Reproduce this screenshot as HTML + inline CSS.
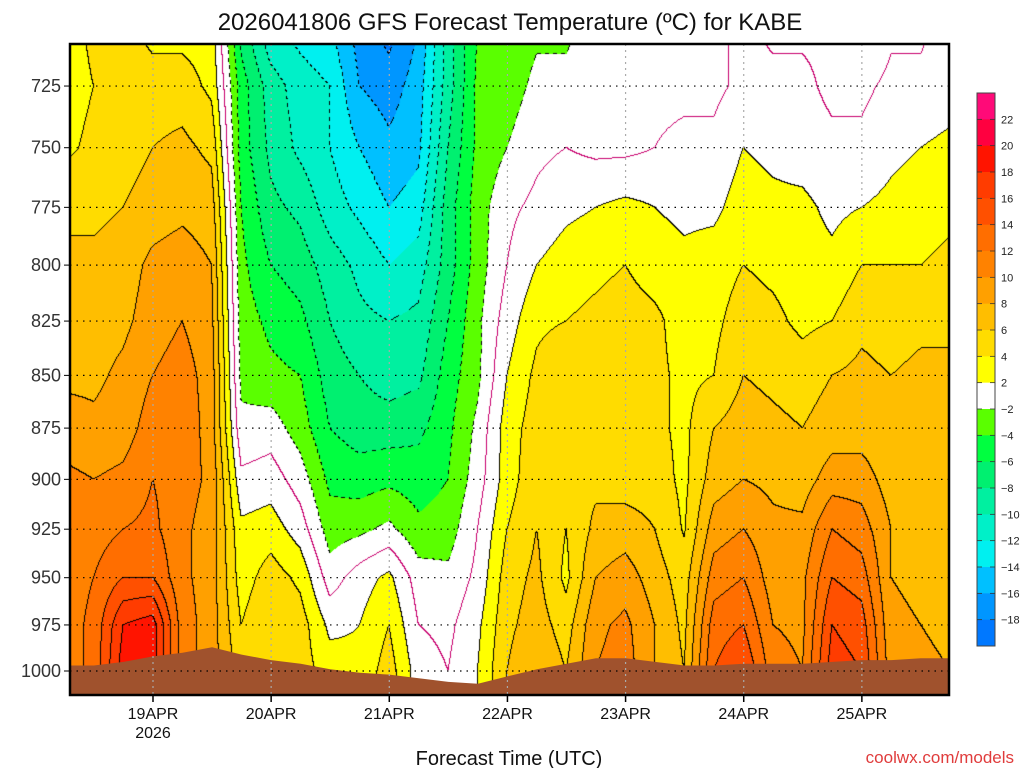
<!DOCTYPE html>
<html><head><meta charset="utf-8">
<style>
body{margin:0;background:#fff;width:1024px;height:768px;overflow:hidden;font-family:"Liberation Sans","DejaVu Sans",sans-serif;}
#wrap{position:relative;width:1024px;height:768px;}
canvas{position:absolute;left:70px;top:44px;}
svg{position:absolute;left:0;top:0;}
</style></head>
<body>
<div id="wrap">
<canvas id="cv" width="879" height="651"></canvas>
<svg id="sv" width="1024" height="768"></svg>
</div>
<script>
// ---- data ----
const hours=[-18,-12,-6,0,6,12,18,24,30,36,42,48,54,60,66,72,78,84,90,96,102,108,114,120,126,132,138,144,150,156,162,168];
const levels=[700,725,750,775,800,825,850,875,900,925,950,975,1000];
const t700=[3,4.5,5,3,3,3,-7,-12,-13,-14,-17,-19,-16,-9,-4,-3.5,-2.5,-2.5,-1,-1,-2.5,-1,-0.5,0.5,-0.5,-0.5,-0.5,-2.5,-0.5,-0.5,1,1];
const t725=[3,4,5,5,5,3.5,-5,-9,-11,-12,-16,-17,-15,-9,-3.5,-3,-1.5,-1.5,-1,-0.5,-0.5,-0.5,-0.5,0.5,0.5,0.5,-0.5,-0.5,0.5,0.5,1,1];
const t750=[3.5,4.5,5,6,6.5,5.5,-5,-8.5,-10.5,-12,-14,-15.5,-14.5,-8,-3.5,-2,-0.5,0,-0.5,-0.5,0,0.5,0.5,2,1.5,1,0.5,0.5,1.5,2,2.5,2.5];
const t775=[5.5,5.5,6,7,7.5,7,-4,-7.5,-8.5,-11,-12.5,-14,-13,-7,-3,-0.5,0.5,1.5,2,2.5,2,1.5,1.5,3,2.5,2.5,1.5,2,2.5,3,3.5,3.5];
const t800=[6.5,6.5,7,8.5,9,8,-3.5,-6,-7,-9,-10.5,-12,-11,-7,-3,0,2,3,3.5,4,3,2.5,3,4,3.5,3,2.5,4,4,4,4.5,4.5];
const t825=[7,7,7.5,9,10,8.5,-3,-4.5,-5.5,-8,-9.5,-10,-9.5,-6,-2.5,1,3.5,4,4.5,5,4.5,3,3.5,5,4.5,3.5,4,5.5,5,5.5,5.5,5.5];
const t850=[7.5,7.5,8.5,10,11,9,-2.5,-3.5,-4,-7,-8,-9,-8.5,-5,-2.5,2,4.5,6,5,5,4.5,3.5,4,6,5.5,5,6,6.5,6,6.5,6.5,6.5];
const t875=[9,8.5,9,11,11.5,9,-1.5,-1,-3,-6,-7,-7,-6.5,-4.5,-1.5,3,5,6,5,5,4.5,3.5,6,7,6.5,6,7,7,6.5,6.5,6.5,6.5];
const t900=[10.5,10,10.5,12,11,9.5,0.5,1,-1,-4.5,-5,-4.5,-5,-4,-1,3,5.5,5.5,5.5,5,5,3.5,7,8,7.5,7,9,9,7,6,6,6];
const t925=[11,11,12,12.5,10.5,9,2.5,3,1,-3,-2.5,-1.5,-3.5,-3,0,4,6,4,6.5,7,6,3.8,9,10,8.5,8.5,12,11,8,6.5,6.5,6.5];
const t950=[11,12,14,14,10.5,9,3,5,3.5,-1,1,2.5,-1,-1.5,0.5,5,6.5,3.5,8,9,7,5,11,12,9,9.5,14,13,8,7.5,7,7];
const t975=[11,12.5,18,19,11,9,4,6,5,1.5,2,4,0,-0.5,1.5,5.5,7,5,9.5,10.5,8,5.5,13,14,10,9.5,16,15,8.5,8,7.5,7.5];
const t1000=[11,12.5,19,19,11,9,5,6,5,3,2.5,5,1,0,2,6,8,6,10,11,8,6,14,16,11,10,17,16,9,8.5,8,8];
const surfacePressure=[997,997,995,992,990,987,991,994,996,999,1001,1002,1004,1006,1007,1003,999,996,993,993,995,997,997,996,996,996,995,994,994,993,993,993];
const binEdges=[-18,-16,-14,-12,-10,-8,-6,-4,-2,2,4,6,8,10,12,14,16,18,20,22];
const binColors=['#0078ff','#0096ff','#00c0ff','#00f0f0','#00f0c8','#00f0a0','#00f070','#00ff40','#5aff00','#ffffff','#ffff00','#ffdc00','#ffbe00','#ffa000','#ff8200','#ff6e00','#ff5000','#ff3c00','#ff1400','#ff0040','#ff0a78'];
const barLabels=['22','20','18','16','14','12','10','8','6','4','2','−2','−4','−6','−8','−10','−12','−14','−16','−18'];
const pressureTicks=[725,750,775,800,825,850,875,900,925,950,975,1000];
const dayTicks=[0,24,48,72,96,120,144];
const dayLabels=['19APR','20APR','21APR','22APR','23APR','24APR','25APR'];
</script>
<script>
const rows=[t700,t725,t750,t775,t800,t825,t850,t875,t900,t925,t950,t975,t1000];
const PL=70,PT=44,PW=879,PH=651;
const H0=-16.86,H1=161.7;
function xOf(h){return PL+(h-H0)/(H1-H0)*PW;}
function yOf(p){return 671-(Math.log(1000)-Math.log(p))*1819;}
function pOf(y){return 1000*Math.exp((y-671)/1819);}
function hOf(x){return H0+(x-PL)/PW*(H1-H0);}
function binOf(t){let b=0;while(b<binEdges.length&&t>=binEdges[b])b++;return b;}
function tempAt(h,p){
  let fi=(h-hours[0])/(hours[1]-hours[0]);fi=Math.max(0,Math.min(hours.length-1.0001,fi));
  const i=Math.floor(fi),fx=fi-i;
  const lp=Math.log(p);let j=0,fy;
  if(p<=levels[0]){j=0;fy=0;}else if(p>=levels[levels.length-1]){j=levels.length-2;fy=1;}
  else{while(levels[j+1]<p)j++;fy=(lp-Math.log(levels[j]))/(Math.log(levels[j+1])-Math.log(levels[j]));}
  const a=rows[j][i]*(1-fx)+rows[j][i+1]*fx;
  const b=rows[j+1][i]*(1-fx)+rows[j+1][i+1]*fx;
  return a*(1-fy)+b*fy;
}
function hex(c){return [parseInt(c.slice(1,3),16),parseInt(c.slice(3,5),16),parseInt(c.slice(5,7),16)];}
const rgb=binColors.map(hex);
const cv=document.getElementById('cv'),ctx=cv.getContext('2d');
const img=ctx.createImageData(PW,PH);
const bins=new Int8Array(PW*PH),sg=new Int8Array(PW*PH);
for(let y=0;y<PH;y++){const p=pOf(PT+y+0.5);for(let x=0;x<PW;x++){const t=tempAt(hOf(PL+x+0.5),p);const k=y*PW+x;bins[k]=binOf(t);sg[k]=t>=0?1:0;}}
for(let y=0;y<PH;y++)for(let x=0;x<PW;x++){
  const k=y*PW+x;let c=rgb[bins[k]];
  const r=x<PW-1?k+1:k,d=y<PH-1?k+PW:k;
  if(bins[k]!==bins[r]||bins[k]!==bins[d]){
    const lo=Math.min(bins[k],bins[r],bins[d]);
    if(lo<9){ if(((x+y)>>2)&1)c=[0,0,0]; } else c=[0,0,0];
  } else if(bins[k]===9&&(sg[k]!==sg[r]||sg[k]!==sg[d])) c=[200,0,110];
  img.data[k*4]=c[0];img.data[k*4+1]=c[1];img.data[k*4+2]=c[2];img.data[k*4+3]=255;
}
ctx.putImageData(img,0,0);

const NS='http://www.w3.org/2000/svg',sv=document.getElementById('sv');
function el(tag,attrs,txt){const e=document.createElementNS(NS,tag);for(const k in attrs)e.setAttribute(k,attrs[k]);if(txt!==undefined)e.textContent=txt;sv.appendChild(e);return e;}
let d='M'+PL+','+(PT+PH);
for(let i=0;i<hours.length;i++){d+=' L'+Math.min(PL+PW,Math.max(PL,xOf(hours[i]))).toFixed(1)+','+yOf(surfacePressure[i]).toFixed(1);}
d+=' L'+(PL+PW)+','+(PT+PH)+' Z';
const g=el('path',{d:d,fill:'#a0522d'});


pressureTicks.forEach(p=>{const y=yOf(p);
  const l=el('line',{x1:PL,x2:PL+PW,y1:y,y2:y,stroke:'#000','stroke-width':1.2,'stroke-dasharray':'1.5 5'});
  
  
  el('line',{x1:PL-6,x2:PL,y1:y,y2:y,stroke:'#000','stroke-width':1});
  const t=el('text',{x:PL-9,y:y+6,'text-anchor':'end','font-size':18,fill:'#333'},String(p));
  
  
});
dayTicks.forEach((h,i)=>{const x=xOf(h);
  const l=el('line',{x1:x,x2:x,y1:PT,y2:PT+PH,stroke:'#aaa','stroke-width':1.2,'stroke-dasharray':'2 4'});
  
  
  el('line',{x1:x,x2:x,y1:PT+PH,y2:PT+PH+7,stroke:'#000','stroke-width':1.5});
  const t=el('text',{x:x,y:719,'text-anchor':'middle','font-size':16,fill:'#111'},dayLabels[i]);
  
  
});
const yr=el('text',{x:xOf(0),y:738,'text-anchor':'middle','font-size':16,fill:'#111'},'2026');


const fr=el('rect',{x:PL,y:PT,width:PW,height:PH,fill:'none',stroke:'#000','stroke-width':2.5});


const CBX=977,CBT=93,CBB=646,n=binColors.length,bh=(CBB-CBT)/n;
for(let i=0;i<n;i++){
  const r=el('rect',{x:CBX,y:CBT+i*bh,width:18,height:bh+0.5,fill:binColors[n-1-i]});
  
  
}
el('rect',{x:CBX,y:CBT,width:18,height:CBB-CBT,fill:'none',stroke:'#444','stroke-width':1});
barLabels.forEach((s,i)=>{const y=CBT+(i+1)*bh;
  el('line',{x1:CBX,x2:CBX+5,y1:y,y2:y,stroke:'#333','stroke-width':0.8});
  el('line',{x1:CBX+13,x2:CBX+18,y1:y,y2:y,stroke:'#333','stroke-width':0.8});
  const t=el('text',{x:CBX+24,y:y+4,'font-size':11,fill:'#222'},s);
  
  
});
const ti=el('text',{x:510,y:30,'text-anchor':'middle','font-size':24,fill:'#111'},'2026041806 GFS Forecast Temperature (ºC) for KABE');


const xt=el('text',{x:509,y:765,'text-anchor':'middle','font-size':20,fill:'#111'},'Forecast Time (UTC)');


const cr=el('text',{x:1014,y:763,'text-anchor':'end','font-size':17,fill:'#e03c3c'},'coolwx.com/models');


</script>
</body></html>
